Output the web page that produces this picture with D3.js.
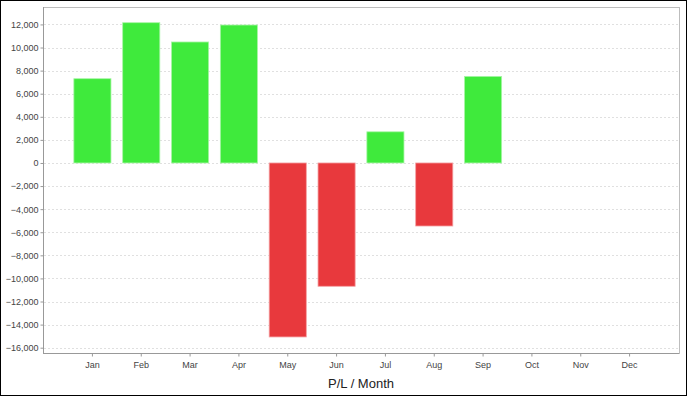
<!DOCTYPE html>
<html>
<head>
<meta charset="utf-8">
<script src="https://cdn.jsdelivr.net/npm/d3@7"></script>
<style>
  body { margin: 0; background: #fff; }
  svg text { font-family: "Liberation Sans", Arial, sans-serif; }
</style>
</head>
<body>
<div id="chart"></div>
<script>
// chart data
var months = ["Jan", "Feb", "Mar", "Apr", "May", "Jun", "Jul", "Aug", "Sep", "Oct", "Nov", "Dec"];
var profit = [7300, 12150, 10480, 11950, -15070, -10680, 2700, -5460, 7500, null, null, null];
var yTicks = [-16000, -14000, -12000, -10000, -8000, -6000, -4000, -2000, 0, 2000, 4000, 6000, 8000, 10000, 12000];
var yRange = [-16460, 13510];

var width = 688, height = 398;
var plot = { left: 43, top: 7, right: 679, bottom: 353 };

var svg = d3.select("#chart").append("svg")
    .attr("width", width)
    .attr("height", height);

// outer frame
svg.append("rect")
    .attr("x", 0.5).attr("y", 0.5)
    .attr("width", width - 2).attr("height", height - 3)
    .attr("fill", "#fff")
    .attr("stroke", "#000");

var x = d3.scaleBand()
    .domain(months)
    .range([plot.left + 25, plot.right - 25])
    .paddingInner(0.24)
    .paddingOuter(0.12);

var y = d3.scaleLinear()
    .domain(yRange)
    .range([plot.bottom, plot.top]);

// plot border
svg.append("rect")
    .attr("x", plot.left + 0.5).attr("y", plot.top + 0.5)
    .attr("width", plot.right - plot.left).attr("height", plot.bottom - plot.top)
    .attr("fill", "#fff")
    .attr("stroke", "#bdbdbd");

// gridlines
svg.selectAll("line.grid")
    .data(yTicks)
    .enter()
    .append("line")
    .attr("class", "grid")
    .attr("x1", plot.left + 1)
    .attr("x2", plot.right)
    .attr("y1", function(d) { return Math.round(y(d)) + 0.5; })
    .attr("y2", function(d) { return Math.round(y(d)) + 0.5; })
    .attr("stroke", "#e0e0e0")
    .attr("stroke-dasharray", "2,2");

// bars
var data = months.map(function(m, i) { return { month: m, value: profit[i] }; })
    .filter(function(d) { return d.value !== null; });

svg.selectAll("rect.bar")
    .data(data)
    .enter()
    .append("rect")
    .attr("class", "bar")
    .attr("x", function(d) { return x(d.month); })
    .attr("y", function(d) { return y(Math.max(0, d.value)); })
    .attr("width", x.bandwidth())
    .attr("height", function(d) { return Math.abs(y(d.value) - y(0)); })
    .attr("fill", function(d) { return d.value >= 0 ? "#3fea3c" : "#e8393d"; })
    .attr("stroke", function(d) { return d.value >= 0 ? "#a8f5a6" : "#f4a0a2"; })
    .attr("stroke-width", 0.8);

// y axis
var yAxis = d3.axisLeft(y)
    .tickValues(yTicks)
    .tickSize(3)
    .tickFormat(d3.format(",d"));

var gy = svg.append("g")
    .attr("transform", "translate(" + (plot.left + 0.5) + ",0)")
    .call(yAxis);
gy.select(".domain").attr("stroke", "#999").attr("d", "M0," + plot.top + "V" + plot.bottom);
gy.selectAll(".tick line").attr("stroke", "#999");
gy.selectAll(".tick text")
    .attr("font-size", "9px")
    .attr("fill", "#444")
    .attr("x", -5)
    .style("font-family", "'Liberation Sans', Arial, sans-serif");

// x axis
var xAxis = d3.axisBottom(x).tickSize(3).tickSizeOuter(0);
var gx = svg.append("g")
    .attr("transform", "translate(0," + (plot.bottom + 0.5) + ")")
    .call(xAxis);
gx.select(".domain").attr("stroke", "#999").attr("d", "M" + plot.left + ",0H" + plot.right);
gx.selectAll(".tick line").attr("stroke", "#999");
gx.selectAll(".tick text")
    .attr("font-size", "9px")
    .attr("fill", "#444")
    .attr("y", 8)
    .style("font-family", "'Liberation Sans', Arial, sans-serif");

// axis title
svg.append("text")
    .attr("x", (plot.left + plot.right) / 2)
    .attr("y", 388)
    .attr("text-anchor", "middle")
    .attr("font-size", "13px")
    .attr("fill", "#222")
    .text("P/L / Month");
</script>
</body>
</html>
